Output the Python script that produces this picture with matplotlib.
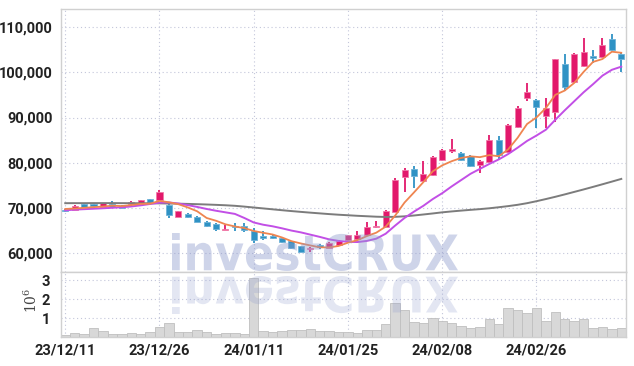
import matplotlib
matplotlib.use("Agg")
import matplotlib.pyplot as plt
import numpy as np
import pandas as pd
from matplotlib.textpath import TextPath
from matplotlib.patches import PathPatch
from matplotlib.font_manager import FontProperties
from matplotlib.transforms import Affine2D

# ---------------- data ----------------
dates = ["2023-12-11", "2023-12-12", "2023-12-13", "2023-12-14", "2023-12-15",
         "2023-12-18", "2023-12-19", "2023-12-20", "2023-12-21", "2023-12-22",
         "2023-12-26", "2023-12-27", "2023-12-28", "2024-01-02", "2024-01-03",
         "2024-01-04", "2024-01-05", "2024-01-08", "2024-01-09", "2024-01-10",
         "2024-01-11", "2024-01-12", "2024-01-15", "2024-01-16", "2024-01-17",
         "2024-01-18", "2024-01-19", "2024-01-22", "2024-01-23", "2024-01-24",
         "2024-01-25", "2024-01-26", "2024-01-29", "2024-01-30", "2024-01-31",
         "2024-02-01", "2024-02-02", "2024-02-05", "2024-02-06", "2024-02-07",
         "2024-02-08", "2024-02-13", "2024-02-14", "2024-02-15", "2024-02-16",
         "2024-02-19", "2024-02-20", "2024-02-21", "2024-02-22", "2024-02-23",
         "2024-02-26", "2024-02-27", "2024-02-28", "2024-02-29", "2024-03-04",
         "2024-03-05", "2024-03-06", "2024-03-07", "2024-03-08", "2024-03-11"]

open_ = [69500, 69500, 70700, 70900, 70200, 70700, 70400, 70800, 71000, 71800,
         71700, 70600, 68000, 68600, 68000, 66900, 66400, 65000, 66000, 65900,
         64700, 63650, 63800, 63350, 62500, 61400, 60700, 61500, 61100, 61650,
         62700, 63000, 63900, 65600, 65800, 69100, 76900, 78500, 76000, 77300,
         80500, 82600, 82100, 81500, 79500, 80200, 85000, 82400, 87800, 94300,
         93900, 90400, 91300, 101900, 97950, 101500, 103650, 103500, 107400, 104100]
high = [69600, 70500, 70800, 71000, 71100, 71400, 70500, 71400, 71700, 71900,
        73800, 70700, 69300, 68700, 68100, 67000, 66500, 66100, 66500, 66600,
        65500, 64900, 64000, 63500, 62600, 61500, 61200, 62000, 62300, 62700,
        64000, 64700, 66700, 67000, 69400, 76500, 78800, 79200, 80400, 81500,
        83000, 85200, 82400, 81700, 80500, 86100, 86000, 88500, 92600, 97600,
        94100, 94400, 103100, 104000, 104300, 107700, 105000, 107600, 108500, 104500]
low = [69100, 69400, 70100, 70200, 70100, 70100, 69900, 70450, 70900, 71100,
       71600, 67700, 67900, 67700, 66700, 65800, 64800, 64950, 64800, 64600,
       62200, 62700, 63100, 62100, 60800, 60100, 60200, 60800, 61000, 61500,
       62600, 62700, 63800, 65500, 65700, 69000, 73500, 74300, 75900, 77100,
       80300, 82100, 80300, 79100, 77600, 80000, 80700, 82200, 87600, 93600,
       87600, 87600, 89000, 96000, 97700, 101300, 102000, 103300, 104800, 100000]
close = [69200, 70450, 70200, 70300, 71000, 70200, 70000, 71300, 71600, 71200,
         73400, 68400, 69200, 68000, 66900, 66000, 65300, 65250, 65600, 65100,
         62800, 63300, 63350, 62300, 61000, 60250, 61100, 61250, 62200, 62600,
         63900, 63850, 65800, 66000, 69300, 76100, 78400, 77000, 77500, 81300,
         82700, 83000, 80600, 79300, 80400, 85000, 81700, 88300, 92100, 95700,
         92300, 92200, 102900, 96850, 104100, 104600, 103300, 106100, 105000, 102900]
volume_m = [0.13, 0.22, 0.17, 0.48, 0.33, 0.17, 0.15, 0.22, 0.17, 0.24,
            0.53, 0.74, 0.29, 0.24, 0.39, 0.24, 0.17, 0.22, 0.22, 0.17,
            3.12, 0.33, 0.24, 0.31, 0.36, 0.39, 0.45, 0.31, 0.34, 0.26,
            0.24, 0.19, 0.38, 0.38, 0.69, 1.83, 1.45, 0.79, 0.74, 1.00,
            0.84, 0.74, 0.58, 0.48, 0.53, 0.95, 0.69, 1.52, 1.41, 1.26,
            1.52, 0.84, 1.31, 0.95, 0.84, 0.98, 0.48, 0.53, 0.43, 0.48]
# moving averages
ma5_head = [69700, 69800, 69950, 70100]
ma20 = [69400, 69550, 69650, 69750, 69850, 69960, 70080, 70250, 70500, 70800,
        71100, 71150, 70900, 70550, 70150, 69700, 69300, 68950, 68600, 67700,
        66700, 66200, 65850, 65400, 64900, 64500, 64000, 63500, 62950, 62600,
        62400, 62350, 62600, 63100, 64200, 66000, 67700, 69100, 70400, 71900,
        73200, 74700, 76100, 77500, 78600, 79700, 80700, 81900, 83300, 84800,
        86000, 87300, 89500, 91600, 93600, 95600, 97400, 99300, 100600, 101300]
ma_long = [70980, 70990, 70990, 71000, 71000, 71000, 70990, 70980, 70970, 70960,
           70940, 70910, 70870, 70820, 70760, 70690, 70610, 70520, 70400, 70220,
           70020, 69820, 69620, 69420, 69230, 69050, 68880, 68720, 68560, 68420,
           68300, 68180, 68080, 67980, 67920, 67950, 68060, 68250, 68470, 68700,
           68950, 69150, 69330, 69500, 69660, 69850, 70080, 70330, 70620, 70980,
           71420, 71900, 72400, 72930, 73480, 74030, 74600, 75180, 75770, 76370]
tick_idx = [0, 10, 20, 30, 40, 50]

# ---------------- style ----------------
UP = "#e2186b"
UP_EDGE = "#f07aa8"
DOWN = "#2f92c4"
DOWN_EDGE = "#6fb3d8"
GRID = "#c3c6da"
SPINE = "#d0d0d0"
FONT = ["Liberation Sans Narrow", "Roboto", "DejaVu Sans"]
plt.rcParams["mathtext.fontset"] = "dejavuserif"

W, H = 634, 366
fig = plt.figure(figsize=(W / 100, H / 100), dpi=100)

def fx(px):
    return px / W

def fy(py):
    return 1 - py / H

left, right = 61, 626
top, mid, bot = 9, 272, 337
ax = fig.add_axes([fx(left), fy(mid), fx(right - left), fy(top) - fy(mid)])
axv = fig.add_axes([fx(left), fy(bot), fx(right - left), fy(mid) - fy(bot)], sharex=ax)

df = pd.DataFrame({"date": pd.to_datetime(dates), "open": open_, "high": high,
                   "low": low, "close": close, "vol": volume_m})
x = np.arange(len(df))
ma5 = df["close"].rolling(5).mean().to_numpy()
ma5[:4] = ma5_head

for a in (ax, axv):
    for s in a.spines.values():
        s.set_color(SPINE)
        s.set_linewidth(1.0)
    a.grid(True, color=GRID, linestyle=(0, (1, 2.5)), linewidth=0.8)
    a.set_axisbelow(True)
    a.tick_params(length=0, colors="#222222")

# candles
up = df["close"] >= df["open"]
body_lo = np.minimum(df["open"], df["close"])
body_h = np.maximum(np.abs(df["close"] - df["open"]), 350)
colors = np.where(up, UP, DOWN)
edges = np.where(up, UP_EDGE, DOWN_EDGE)
ax.vlines(x, df["low"], df["high"], colors=colors, linewidth=1.3, zorder=3)
ax.bar(x, body_h, bottom=body_lo, width=0.64, color=colors, edgecolor=edges,
       linewidth=0.6, zorder=4)

ax.plot(x, ma_long, color="#7c7c7c", linewidth=1.4, zorder=5)
ax.plot(x, ma20, color="#c24fe6", linewidth=1.4, zorder=5)
ax.plot(x, ma5, color="#ef8550", linewidth=1.3, zorder=6)

ax.set_ylim(55700, 114100)
ax.set_xlim(-0.45, 59.5)
ax.set_yticks([60000, 70000, 80000, 90000, 100000, 110000])
ax.set_yticklabels([f"{v:,}" for v in [60000, 70000, 80000, 90000, 100000, 110000]],
                   fontfamily=FONT, fontsize=10.5, fontweight="bold")
ax.tick_params(axis="y", pad=6)
plt.setp(ax.get_xticklabels(), visible=False)

# volume
axv.bar(x, df["vol"], width=1.0, color="#d8d8d8", edgecolor="#bfbfbf",
        linewidth=0.6, zorder=2)
axv.set_ylim(0.0, 3.45)
axv.set_yticks([1, 2, 3])
axv.set_yticklabels(["1", "2", "3"], fontfamily=FONT, fontsize=10.5, fontweight="bold")
axv.tick_params(axis="y", pad=8)
axv.set_ylabel(r"$10^{6}$", color="#444444", fontsize=10)
axv.yaxis.set_label_coords(-0.038, 0.57)
axv.set_xticks(tick_idx)
axv.set_xticklabels([df["date"][i].strftime("%y/%m/%d") for i in tick_idx],
                    fontfamily=FONT, fontsize=10.5, fontweight="bold")
axv.tick_params(axis="x", pad=5)

# watermark with reflection
fp = FontProperties(family="DejaVu Sans", weight="bold")
tp = TextPath((0, 0), "investCRUX", size=50, prop=fp)
ext = tp.get_extents()

def place(path, x0, y0, x1, y1, flip=False):
    sx = (fx(x1) - fx(x0)) / ext.width
    sy = (fy(y0) - fy(y1)) / ext.height
    t = Affine2D().translate(-ext.x0, -ext.y0)
    if flip:
        t = t.scale(sx, -sy).translate(fx(x0), fy(y0))
    else:
        t = t.scale(sx, sy).translate(fx(x0), fy(y1))
    return t.transform_path(path)

main_path = place(tp, 172, 233, 458, 271)
refl_path = place(tp, 172, 276, 458, 314, flip=True)
fig.add_artist(PathPatch(main_path, transform=fig.transFigure, facecolor="#8c99cc",
                         edgecolor="none", alpha=0.42, zorder=1))
fig.add_artist(PathPatch(refl_path, transform=fig.transFigure, facecolor="#8c99cc",
                         edgecolor="none", alpha=0.24, zorder=1))

fig.savefig("out.png", dpi=100)
